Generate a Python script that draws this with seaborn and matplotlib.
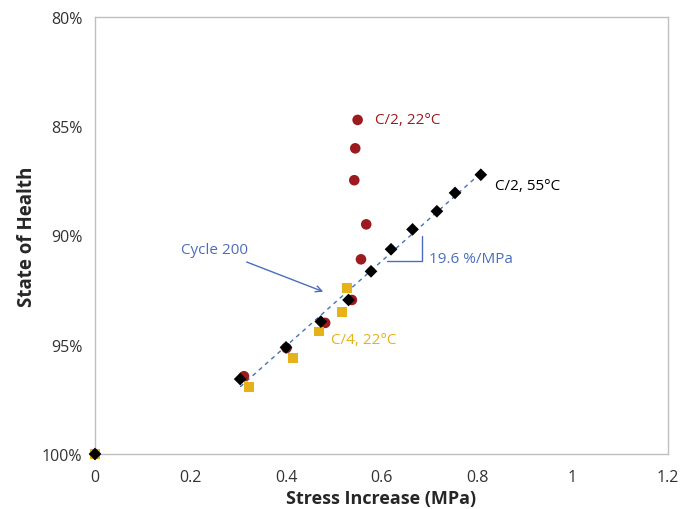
import numpy as np
import pandas as pd
import matplotlib
matplotlib.use("Agg")
import matplotlib.pyplot as plt
import seaborn as sns

# data (stress increase in MPa, state of health in %)
red_x = [0, 0.312, 0.401, 0.482, 0.538, 0.557, 0.568, 0.543, 0.545, 0.550]
red_y = [100, 96.44, 95.15, 94.00, 92.95, 91.09, 89.49, 87.47, 86.01, 84.71]

black_x = [0, 0.304, 0.400, 0.473, 0.531, 0.578, 0.620, 0.665, 0.716, 0.754, 0.808]
black_y = [100, 96.57, 95.12, 93.94, 92.95, 91.64, 90.63, 89.72, 88.89, 88.05, 87.22]

yellow_x = [0, 0.323, 0.415, 0.469, 0.517, 0.528]
yellow_y = [100, 96.92, 95.59, 94.39, 93.49, 92.42]

x_ticks = [0, 0.2, 0.4, 0.6, 0.8, 1.0, 1.2]
x_labels = ["0", "0.2", "0.4", "0.6", "0.8", "1", "1.2"]
y_ticks = [80, 85, 90, 95, 100]
y_labels = ["80%", "85%", "90%", "95%", "100%"]

red = "#9B1B1E"
yellow = "#E5B21A"
blue = "#4A6EBD"
grey = "#BFBFBF"

sns.set_style("white")
plt.rcParams["font.family"] = ["Open Sans", "DejaVu Sans"]

fig = plt.figure(figsize=(6.95, 5.10), dpi=100)
ax = fig.add_axes([95 / 695, 1 - 455 / 510, (668 - 95) / 695, (455 - 18) / 510])

df_red = pd.DataFrame({"x": red_x, "y": red_y})
df_black = pd.DataFrame({"x": black_x, "y": black_y})
df_yellow = pd.DataFrame({"x": yellow_x, "y": yellow_y})

# linear trend through the C/2, 55C points (excluding the origin)
bx = np.array(black_x[1:])
by = np.array(black_y[1:])
k, b = np.polyfit(bx, by, 1)
tx = np.array([bx.min(), bx.max()])
ax.plot(tx, k * tx + b, color=blue, lw=1.0, ls=(0, (3, 3)), zorder=1)

sns.scatterplot(data=df_red, x="x", y="y", ax=ax, color=red, marker="o",
                s=58, edgecolor="none", zorder=2, clip_on=False)
sns.scatterplot(data=df_yellow, x="x", y="y", ax=ax, color=yellow, marker="s",
                s=50, edgecolor="none", zorder=3, clip_on=False)
sns.scatterplot(data=df_black, x="x", y="y", ax=ax, color="black", marker="D",
                s=42, edgecolor="none", zorder=4, clip_on=False)

ax.set_xlim(0, 1.2)
ax.set_ylim(100, 80)
ax.set_xticks(x_ticks)
ax.set_xticklabels(x_labels)
ax.set_yticks(y_ticks)
ax.set_yticklabels(y_labels)
ax.tick_params(axis="both", direction="out", length=5, width=1, color=grey,
               labelsize=11.5, labelcolor="#333333", pad=4)
ax.tick_params(axis="x", pad=6)
for sp in ax.spines.values():
    sp.set_visible(True)
    sp.set_color(grey)
    sp.set_linewidth(1)

ax.set_xlabel("Stress Increase (MPa)", fontsize=13, fontweight="bold", labelpad=3)
ax.set_ylabel("State of Health", fontsize=13.5, fontweight="bold")
ax.yaxis.set_label_coords(-0.101, 0.5)

# series labels
ax.text(0.587, 84.71, "C/2, 22°C", color=red, fontsize=11, va="center", ha="left")
ax.text(0.838, 87.72, "C/2, 55°C", color="black", fontsize=11, va="center", ha="left")
ax.text(0.494, 94.74, "C/4, 22°C", color=yellow, fontsize=11, va="center", ha="left")

# cycle 200 annotation
ax.annotate("Cycle 200", xy=(0.478, 92.57), xytext=(0.181, 90.65),
            color=blue, fontsize=11, va="center", ha="left",
            arrowprops=dict(arrowstyle="->", color=blue, lw=1.0,
                            shrinkA=3, shrinkB=0))

# slope bracket
ax.plot([0.611, 0.684, 0.684], [91.15, 91.15, 90.04], color=blue, lw=1.0)
ax.text(0.700, 91.05, "19.6 %/MPa", color=blue, fontsize=11, va="center", ha="left")

fig.savefig("out.png", dpi=100)
